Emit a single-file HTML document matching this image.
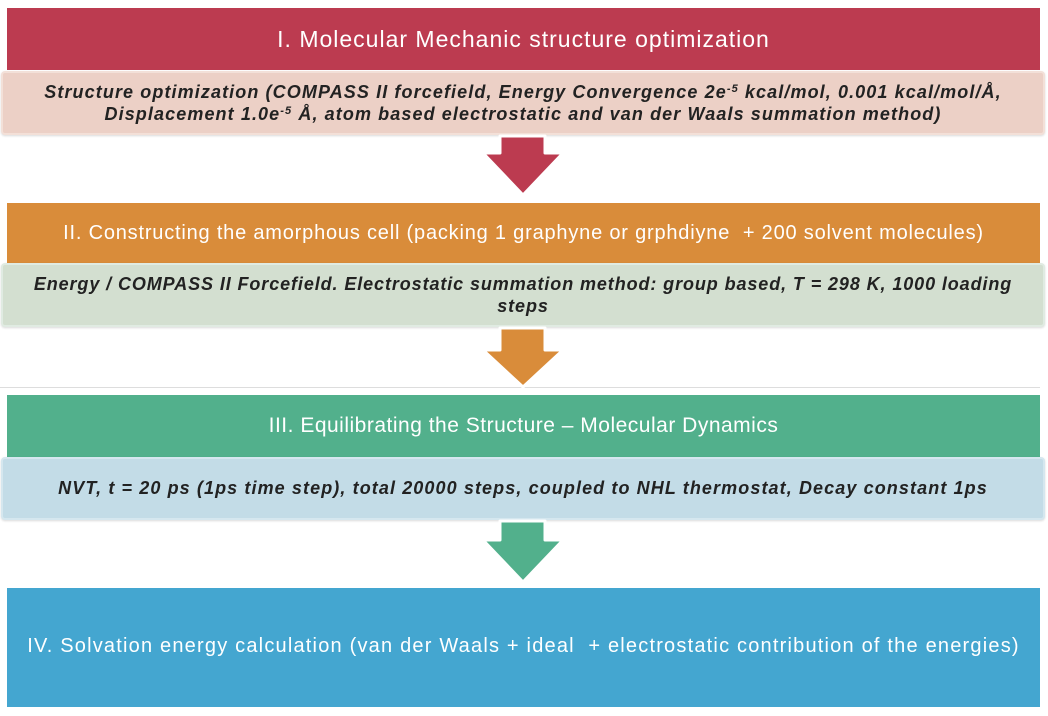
<!DOCTYPE html>
<html><head><meta charset="utf-8"><style>
body{margin:0;width:1048px;height:716px;background:#fff;position:relative;overflow:hidden;font-family:"Liberation Sans",sans-serif}
.b{position:absolute;text-align:center;box-sizing:border-box;white-space:nowrap}
.h{color:#fff;font-size:20px}
.s{color:#222;font-size:18px;font-weight:bold;font-style:italic;line-height:22px;border-radius:4px;box-shadow:0 1px 2px rgba(0,0,0,0.15)}
sup{font-size:11px;line-height:0;vertical-align:6px}
svg{position:absolute;left:0;top:0}
</style></head><body>
<div class="b h" style="left:7px;top:8px;width:1033px;height:62px;line-height:62px;background:#bc3b50;font-size:23px;letter-spacing:1px">I. Molecular Mechanic structure optimization</div>
<div class="b s" style="left:1px;top:71px;width:1044px;height:64px;padding-top:8px;background:#ecd0c6;border:2px solid #f3e0d8;letter-spacing:1.1px">Structure optimization (COMPASS II forcefield, Energy Convergence 2e<sup>-5</sup> kcal/mol, 0.001 kcal/mol/Å,<br>Displacement 1.0e<sup>-5</sup> Å, atom based electrostatic and van der Waals summation method)</div>
<div class="b h" style="left:7px;top:203px;width:1033px;height:60px;line-height:60px;background:#d98c3a;letter-spacing:0.8px">II. Constructing the amorphous cell (packing 1 graphyne or grphdiyne &nbsp;+ 200 solvent molecules)</div>
<div class="b s" style="left:1px;top:263px;width:1044px;height:64px;padding-top:8px;background:#d3dfd0;border:2px solid #e0ebe2;letter-spacing:0.9px">Energy / COMPASS II Forcefield. Electrostatic summation method: group based, T = 298 K, 1000 loading<br>steps</div>
<div style="position:absolute;left:0;top:387px;width:1040px;height:1px;background:#ddd"></div>
<div class="b h" style="left:7px;top:395px;width:1033px;height:62px;line-height:62px;background:#52b08c;font-size:21px;letter-spacing:0.5px">III. Equilibrating the Structure – Molecular Dynamics</div>
<div class="b s" style="left:1px;top:457px;width:1044px;height:63px;line-height:59px;background:#c3dce7;border:2px solid #d5e7ef;letter-spacing:1.1px">NVT, t = 20 ps (1ps time step), total 20000 steps, coupled to NHL thermostat, Decay constant 1ps</div>
<div class="b h" style="left:7px;top:588px;width:1033px;height:119px;line-height:117px;background:#44a6d0;letter-spacing:1.2px">IV. Solvation energy calculation (van der Waals + ideal &nbsp;+ electrostatic contribution of the energies)</div>
<svg width="1048" height="716">
<polygon points="500,136 545,136 545,153 563,153 523,195 483,153 500,153" fill="#bc3b50" stroke="#fff" stroke-width="3" stroke-linejoin="round"/>
<polygon points="500,328 545,328 545,350 563,350 523,387 483,350 500,350" fill="#d98c3a" stroke="#fff" stroke-width="3" stroke-linejoin="round"/>
<polygon points="500,521 545,521 545,540 563,540 523,582 483,540 500,540" fill="#52b08c" stroke="#fff" stroke-width="3" stroke-linejoin="round"/>
</svg>
</body></html>
